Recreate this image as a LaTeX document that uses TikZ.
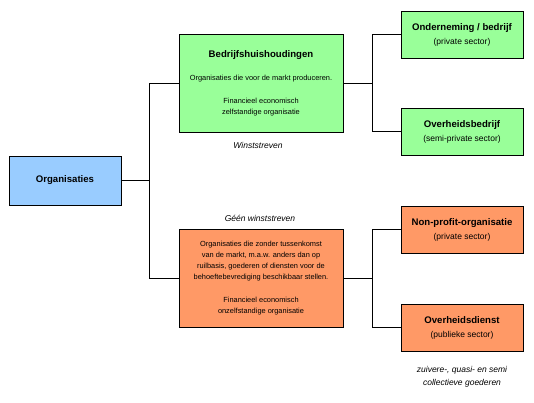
\documentclass[tikz,border=0pt]{standalone}
\usepackage{fontspec}
\setmainfont{Liberation Sans}
\definecolor{boxgreen}{HTML}{99FF99}
\definecolor{boxblue}{HTML}{99CCFF}
\definecolor{boxorange}{HTML}{FF9966}
\begin{document}
\begin{tikzpicture}[x=1pt,y=1pt,
  box/.style={draw=black, line width=0.9pt, align=center, inner sep=2pt},
  bigbox/.style={box, minimum width=164pt, minimum height=98pt,
    font=\fontsize{7.4}{11}\selectfont},
  smallbox/.style={box, minimum width=122pt, minimum height=47pt,
    font=\fontsize{8.5}{14}\selectfont},
  conn/.style={draw=black, line width=0.9pt},
  note/.style={font=\fontsize{8.5}{13}\selectfont\itshape, align=center}]
\useasboundingbox (0,0) rectangle (534,403);
\newcommand{\ttl}[1]{{\fontsize{9.6}{11}\selectfont\bfseries #1}}
\node[box, fill=boxblue, minimum width=112pt, minimum height=49pt] (org) at (65,222.5) {\ttl{Organisaties}};
\node[bigbox, fill=boxgreen] (bedr) at (261,320) {\ttl{Bedrijfshuishoudingen}\\[12pt]
Organisaties die voor de markt produceren.\\[12pt]
Financieel economisch\\ zelfstandige organisatie};
\node[bigbox, fill=boxorange] (npo) at (261,125) {Organisaties die zonder tussenkomst\\
van de markt, m.a.w. anders dan op\\
ruilbasis, goederen of diensten voor de\\
behoeftebevrediging beschikbaar stellen.\\[12pt]
Financieel economisch\\ onzelfstandige organisatie};
\node[smallbox, fill=boxgreen] (ond) at (462,368.5) {\ttl{Onderneming / bedrijf}\\ (private sector)};
\node[smallbox, fill=boxgreen] (ovb) at (462,271.5) {\ttl{Overheidsbedrijf}\\ (semi-private sector)};
\node[smallbox, fill=boxorange] (non) at (462,173.5) {\ttl{Non-profit-organisatie}\\ (private sector)};
\node[smallbox, fill=boxorange] (ovd) at (462,75.5) {\ttl{Overheidsdienst}\\ (publieke sector)};
\node[note] (w1) at (258,258) {Winststreven};
\node[note] (w2) at (260,185) {Géén winststreven};
\node[note] (w3) at (462,26.5) {zuivere-, quasi- en semi\\ collectieve goederen};
\coordinate (jl) at (149,0);
\coordinate (jr) at (372,0);
\draw[conn] (org.east) -- (org.east -| jl);
\draw[conn] (bedr.west) -- (bedr.west -| jl) -- (npo.west -| jl) -- (npo.west);
\draw[conn] (bedr.east) -- (bedr.east -| jr);
\draw[conn] (ond.west) -- (ond.west -| jr) -- (ovb.west -| jr) -- (ovb.west);
\draw[conn] (npo.east) -- (npo.east -| jr);
\draw[conn] (non.west) -- (non.west -| jr) -- (ovd.west -| jr) -- (ovd.west);
\end{tikzpicture}
\end{document}
